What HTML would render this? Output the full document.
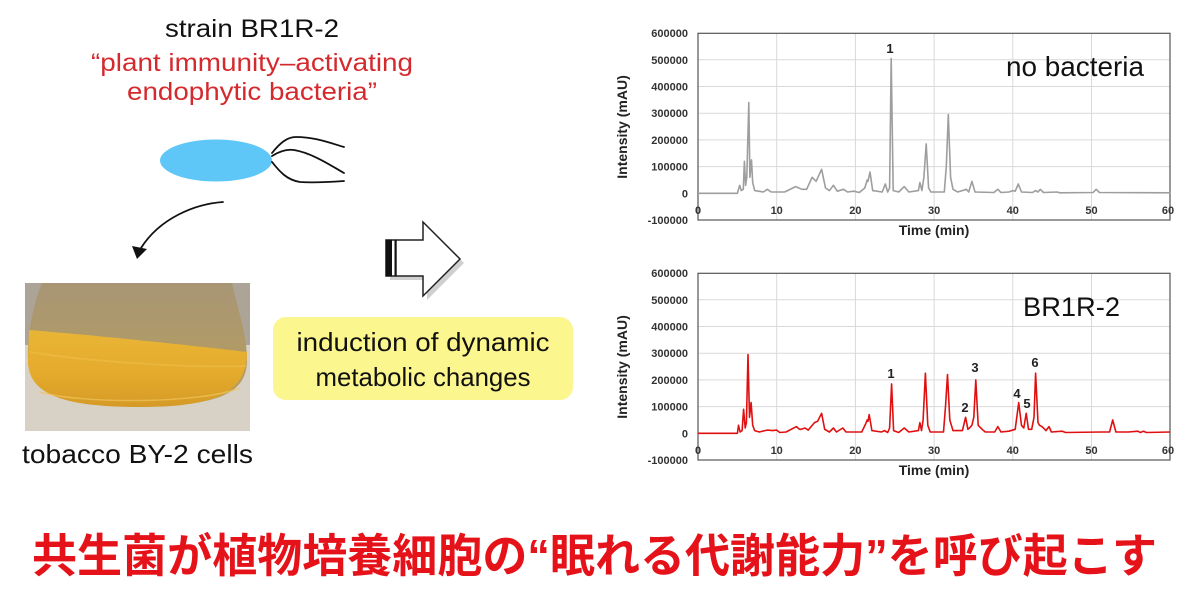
<!DOCTYPE html>
<html>
<head>
<meta charset="utf-8">
<style>
html,body{margin:0;padding:0;background:#fff;}
body{width:1194px;height:601px;overflow:hidden;}
svg{display:block;}
.t{font-family:"Liberation Sans",Arial,sans-serif;}
.ax{font-family:"Liberation Sans",Arial,sans-serif;font-weight:bold;font-size:11px;fill:#333;}
.tl{font-family:"Liberation Sans",Arial,sans-serif;font-weight:bold;font-size:14px;fill:#222;}
.pk{font-family:"Liberation Sans",Arial,sans-serif;font-weight:bold;font-size:13px;fill:#222;}
</style>
</head>
<body>
<svg width="1194" height="601" viewBox="0 0 1194 601" xmlns="http://www.w3.org/2000/svg">
<defs>
  <linearGradient id="glass" x1="0" y1="0" x2="0" y2="1">
    <stop offset="0" stop-color="#a89575"/>
    <stop offset="0.5" stop-color="#b09a68"/>
    <stop offset="1" stop-color="#b89d5c"/>
  </linearGradient>
  <linearGradient id="yel" x1="0" y1="0" x2="0" y2="1">
    <stop offset="0" stop-color="#e9b536"/>
    <stop offset="0.6" stop-color="#e4aa2c"/>
    <stop offset="1" stop-color="#d49a26"/>
  </linearGradient>
</defs>

<!-- ===== Left texts ===== -->
<text class="t" x="252" y="37" font-size="25" fill="#111" text-anchor="middle" textLength="174" lengthAdjust="spacingAndGlyphs">strain BR1R-2</text>
<text class="t" x="252" y="71" font-size="25" fill="#d42a2e" text-anchor="middle" textLength="322" lengthAdjust="spacingAndGlyphs">“plant immunity–activating</text>
<text class="t" x="252" y="100" font-size="25" fill="#d42a2e" text-anchor="middle" textLength="250" lengthAdjust="spacingAndGlyphs">endophytic bacteria”</text>

<!-- bacterium -->
<ellipse cx="216" cy="160.5" rx="56" ry="21" fill="#5fc7f7"/>
<g fill="none" stroke="#111" stroke-width="1.8" stroke-linecap="round">
  <path d="M272,153 C280,143 287,137 296,137 C315,137 330,143 344,147"/>
  <path d="M272,156 C280,151 287,149 294,150 C312,153 330,165 344,173"/>
  <path d="M272,162 C280,172 287,180 300,182 C315,183 330,182 344,181"/>
  <path d="M223,202 C195,204 160,218 141,248"/>
</g>
<polygon points="132,246 147,249 137,259" fill="#111"/>

<!-- photo -->
<g>
  <rect x="25" y="283" width="225" height="148" fill="#d8d1c6"/>
  <rect x="25" y="283" width="225" height="62" fill="#aca497"/>
  <path d="M42,283 L232,283 C238,310 247,335 247,360 C247,395 215,406 140,406 C65,406 29,395 28,360 C27,335 33,305 42,283 Z" fill="url(#glass)"/>
  <path d="M29,330 C80,334 180,344 247,352 C247,393 215,407 140,407 C65,407 29,395 28,362 Z" fill="url(#yel)"/>
  <path d="M40,392 C80,404 200,404 240,388" fill="none" stroke="#efc45a" stroke-width="1.5" opacity="0.7"/>
  <path d="M30,352 C90,362 190,368 246,366" fill="none" stroke="#f0c04a" stroke-width="2" opacity="0.5"/>
</g>
<text class="t" x="137.5" y="463" font-size="26" fill="#111" text-anchor="middle" textLength="231" lengthAdjust="spacingAndGlyphs">tobacco BY-2 cells</text>

<!-- block arrow -->
<path d="M390,244 L427,244 L427,226 L464,263 L427,300 L427,280 L390,280 Z" fill="#d0d0d0"/>
<path d="M386,240 L423,240 L423,222 L460,259 L423,296 L423,276 L386,276 Z" fill="#fff" stroke="#222" stroke-width="1.5" stroke-linejoin="miter"/>
<rect x="385.5" y="239.5" width="6.5" height="37" fill="#111"/>
<rect x="394.5" y="239.5" width="2.2" height="37" fill="#111"/>

<!-- yellow box -->
<rect x="273" y="317" width="300" height="83" rx="13" ry="13" fill="#fcf68e"/>
<text class="t" x="423" y="351" font-size="26" fill="#111" text-anchor="middle" textLength="253" lengthAdjust="spacingAndGlyphs">induction of dynamic</text>
<text class="t" x="423" y="386" font-size="26" fill="#111" text-anchor="middle" textLength="215" lengthAdjust="spacingAndGlyphs">metabolic changes</text>

<!-- ===== Top chart ===== -->
<g>
  <g stroke="#d9d9d9" stroke-width="1">
    <line x1="698" y1="59.8" x2="1170" y2="59.8"/>
    <line x1="698" y1="86.5" x2="1170" y2="86.5"/>
    <line x1="698" y1="113.2" x2="1170" y2="113.2"/>
    <line x1="698" y1="139.9" x2="1170" y2="139.9"/>
    <line x1="698" y1="166.6" x2="1170" y2="166.6"/>
    <line x1="776.7" y1="33.3" x2="776.7" y2="220"/>
    <line x1="855.4" y1="33.3" x2="855.4" y2="220"/>
    <line x1="934.1" y1="33.3" x2="934.1" y2="220"/>
    <line x1="1012.8" y1="33.3" x2="1012.8" y2="220"/>
    <line x1="1091.5" y1="33.3" x2="1091.5" y2="220"/>
  </g>
  <rect x="698" y="33.3" width="472" height="186.7" fill="none" stroke="#555" stroke-width="1.2"/>
  <g class="ax" text-anchor="end">
    <text x="688" y="37">600000</text>
    <text x="688" y="64">500000</text>
    <text x="688" y="90.5">400000</text>
    <text x="688" y="117">300000</text>
    <text x="688" y="144">200000</text>
    <text x="688" y="170.6">100000</text>
    <text x="688" y="197.3">0</text>
    <text x="688" y="224">-100000</text>
  </g>
  <g class="ax" text-anchor="middle">
    <text x="698" y="214">0</text>
    <text x="776.7" y="214">10</text>
    <text x="855.4" y="214">20</text>
    <text x="934.1" y="214">30</text>
    <text x="1012.8" y="214">40</text>
    <text x="1091.5" y="214">50</text>
    <text x="1168" y="214">60</text>
  </g>
  <text class="tl" x="934" y="235" text-anchor="middle">Time (min)</text>
  <text class="tl" transform="translate(627,127) rotate(-90)" text-anchor="middle">Intensity (mAU)</text>
  <path fill="none" stroke="#9e9e9e" stroke-width="1.6" stroke-linejoin="round" d="M698,193.3 L737.4,193.3 L739.7,185.3 L741.3,190.6 L743.3,189.3 L744.4,161.3 L745.6,185.3 L746.8,177.3 L748.8,102.5 L749.9,177.3 L751.5,159.9 L752.7,182.6 L754.7,190.6 L763.3,192.0 L767.3,189.3 L771.2,192.0 L784.6,192.0 L795.6,186.6 L801.9,189.3 L806.6,189.3 L812.1,177.3 L816.1,181.3 L821.6,169.3 L825.5,188.0 L829.4,190.6 L833.4,185.3 L837.3,191.2 L843.6,189.3 L847.5,192.0 L853.8,191.2 L859.3,192.5 L864.8,188.0 L867.2,180.0 L868.0,181.3 L870.0,172.0 L872.7,190.6 L882.2,192.0 L885.3,184.0 L887.7,192.0 L889.6,188.0 L891.2,58.5 L893.2,190.6 L898.7,192.0 L904.2,186.6 L908.9,192.0 L918.4,190.6 L919.9,182.6 L921.9,190.6 L923.9,177.3 L926.2,143.9 L928.6,188.0 L930.9,192.0 L944.3,192.0 L946.3,166.6 L948.3,114.5 L950.6,177.3 L953.0,189.3 L957.7,192.0 L966.4,189.3 L968.7,192.0 L971.9,181.3 L975.0,192.0 L993.9,192.5 L997.8,189.3 L1001.0,192.5 L1008.9,192.0 L1012.8,190.6 L1015.2,191.2 L1018.3,184.0 L1021.5,192.0 L1032.5,192.5 L1035.6,190.6 L1038.0,192.0 L1040.3,189.3 L1043.5,192.5 L1056.9,192.0 L1060.0,192.8 L1093.1,192.5 L1096.2,189.3 L1099.4,192.5 L1170.2,192.8"/>
  <text class="pk" x="890" y="53" text-anchor="middle">1</text>
  <text class="t" x="1006" y="76" font-size="28" fill="#111" textLength="138" lengthAdjust="spacingAndGlyphs">no bacteria</text>
</g>

<!-- ===== Bottom chart ===== -->
<g>
  <g stroke="#d9d9d9" stroke-width="1">
    <line x1="698" y1="299.8" x2="1170" y2="299.8"/>
    <line x1="698" y1="326.5" x2="1170" y2="326.5"/>
    <line x1="698" y1="353.2" x2="1170" y2="353.2"/>
    <line x1="698" y1="379.9" x2="1170" y2="379.9"/>
    <line x1="698" y1="406.6" x2="1170" y2="406.6"/>
    <line x1="776.7" y1="273.3" x2="776.7" y2="460"/>
    <line x1="855.4" y1="273.3" x2="855.4" y2="460"/>
    <line x1="934.1" y1="273.3" x2="934.1" y2="460"/>
    <line x1="1012.8" y1="273.3" x2="1012.8" y2="460"/>
    <line x1="1091.5" y1="273.3" x2="1091.5" y2="460"/>
  </g>
  <rect x="698" y="273.3" width="472" height="186.7" fill="none" stroke="#555" stroke-width="1.2"/>
  <g class="ax" text-anchor="end">
    <text x="688" y="277">600000</text>
    <text x="688" y="304">500000</text>
    <text x="688" y="330.5">400000</text>
    <text x="688" y="357">300000</text>
    <text x="688" y="384">200000</text>
    <text x="688" y="410.6">100000</text>
    <text x="688" y="437.3">0</text>
    <text x="688" y="464">-100000</text>
  </g>
  <g class="ax" text-anchor="middle">
    <text x="698" y="454">0</text>
    <text x="776.7" y="454">10</text>
    <text x="855.4" y="454">20</text>
    <text x="934.1" y="454">30</text>
    <text x="1012.8" y="454">40</text>
    <text x="1091.5" y="454">50</text>
    <text x="1168" y="454">60</text>
  </g>
  <text class="tl" x="934" y="475" text-anchor="middle">Time (min)</text>
  <text class="tl" transform="translate(627,367) rotate(-90)" text-anchor="middle">Intensity (mAU)</text>
  <path fill="none" stroke="#e01010" stroke-width="1.6" stroke-linejoin="round" d="M698,433.3 L737.4,433.3 L738.5,425.3 L740.1,432.0 L742.1,430.6 L743.6,409.3 L745.2,428.0 L746.4,422.6 L748.0,354.5 L749.5,417.3 L751.1,402.6 L752.7,425.3 L754.7,430.6 L759.4,432.0 L764.9,430.6 L767.3,430.1 L772.8,430.6 L776.7,430.1 L779.8,432.5 L786.1,432.0 L796.4,426.6 L799.5,429.3 L801.1,429.3 L805.0,428.0 L808.2,430.1 L814.5,422.6 L817.6,421.3 L821.6,413.3 L824.7,429.3 L829.4,432.0 L833.4,428.0 L836.5,432.0 L842.8,428.0 L846.0,432.0 L861.7,432.0 L865.6,424.0 L867.2,420.0 L868.0,421.3 L869.2,414.6 L871.9,430.6 L881.4,432.0 L884.5,430.6 L887.7,432.5 L889.6,428.0 L891.6,383.9 L893.6,430.6 L898.7,432.5 L904.2,428.0 L908.9,432.0 L918.4,430.6 L919.9,422.6 L921.5,430.6 L923.1,420.0 L925.4,373.2 L927.8,425.3 L930.2,432.0 L943.5,432.0 L945.5,406.6 L947.5,374.6 L949.8,420.0 L953.0,430.6 L962.4,430.6 L965.6,417.3 L967.9,429.3 L969.5,428.0 L971.9,425.3 L973.8,417.3 L975.8,379.9 L978.2,425.3 L982.1,429.3 L985.3,432.0 L994.7,432.0 L997.8,426.6 L1001.0,432.0 L1008.9,431.2 L1015.2,429.3 L1018.7,402.6 L1021.5,425.3 L1023.8,428.0 L1026.2,413.3 L1028.5,429.3 L1031.7,429.3 L1034.0,417.3 L1035.6,373.2 L1038.0,422.6 L1039.6,425.3 L1041.9,426.6 L1043.5,428.0 L1045.9,430.6 L1049.0,426.6 L1051.4,432.0 L1062.4,431.2 L1065.5,432.5 L1101.7,432.0 L1109.6,432.0 L1112.7,420.0 L1115.9,432.0 L1128.5,432.0 L1137.9,431.2 L1140.3,432.5 L1143.4,431.2 L1146.6,432.5 L1170.2,432.0"/>
  <g class="pk" text-anchor="middle">
    <text x="891" y="378">1</text>
    <text x="965" y="412">2</text>
    <text x="975" y="372">3</text>
    <text x="1017" y="398">4</text>
    <text x="1027" y="408">5</text>
    <text x="1035" y="367">6</text>
  </g>
  <text class="t" x="1023" y="316" font-size="27" fill="#111" textLength="97" lengthAdjust="spacingAndGlyphs">BR1R-2</text>
</g>

<!-- ===== Bottom Japanese title ===== -->
<text x="32" y="572" font-family="'Liberation Sans','Noto Sans CJK JP',sans-serif" font-weight="bold" font-size="46" fill="#e6121a" textLength="1125" lengthAdjust="spacingAndGlyphs">共生菌が植物培養細胞の“眠れる代謝能力”を呼び起こす</text>
</svg>
</body>
</html>
